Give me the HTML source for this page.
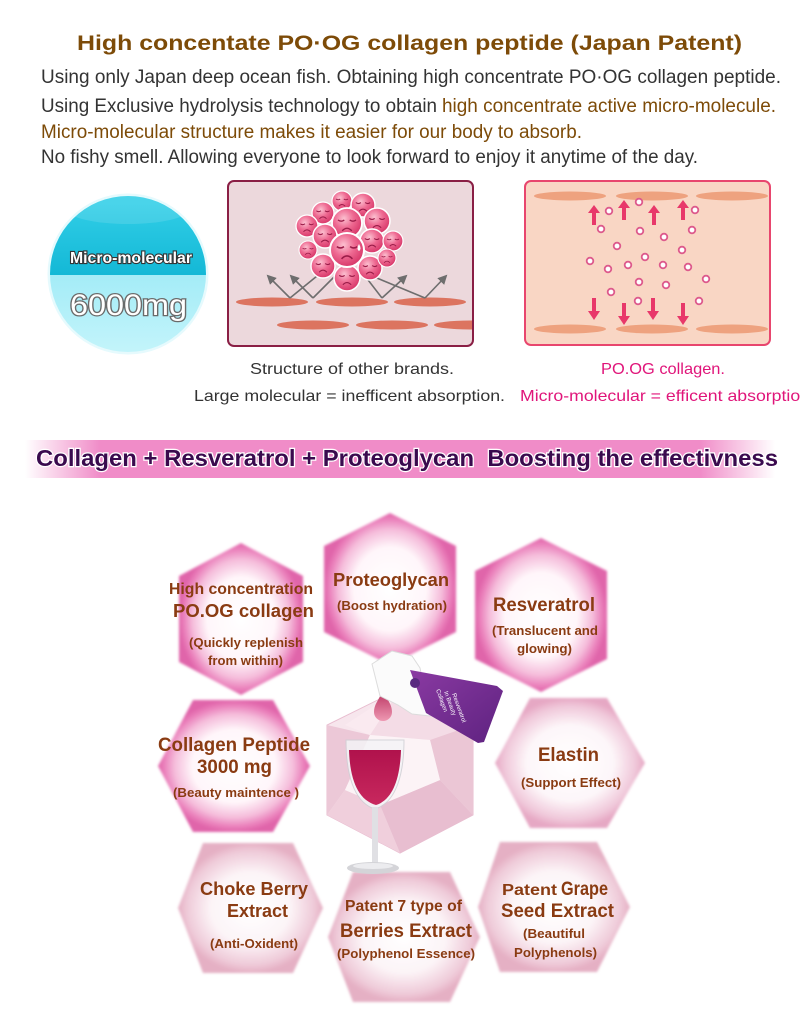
<!DOCTYPE html>
<html><head><meta charset="utf-8"><style>
html,body{margin:0;padding:0;background:#fff;}
svg{display:block;}
text{font-family:"Liberation Sans",Arial,sans-serif;}
</style></head><body>
<svg width="800" height="1015" viewBox="0 0 800 1015" xmlns="http://www.w3.org/2000/svg">
<defs>
<radialGradient id="hs"><stop offset="0" stop-color="#fff"/><stop offset="0.55" stop-color="#fff6fa"/><stop offset="0.78" stop-color="#f5bddb"/><stop offset="0.92" stop-color="#ea80bb"/><stop offset="1" stop-color="#e065aa"/></radialGradient>
<radialGradient id="he"><stop offset="0" stop-color="#fff"/><stop offset="0.58" stop-color="#fdf6f9"/><stop offset="0.87" stop-color="#f0c8da"/><stop offset="1" stop-color="#e6a8c4"/></radialGradient>
<radialGradient id="hb"><stop offset="0" stop-color="#fff"/><stop offset="0.55" stop-color="#fcf4f7"/><stop offset="0.87" stop-color="#efcbd9"/><stop offset="1" stop-color="#e5b0c4"/></radialGradient>
<radialGradient id="bub" cx="0.4" cy="0.35" r="0.65"><stop offset="0" stop-color="#fcc0d0"/><stop offset="0.5" stop-color="#ee6a92"/><stop offset="1" stop-color="#d8386a"/></radialGradient>
<linearGradient id="ban" x1="0" x2="1" y1="0" y2="0"><stop offset="0" stop-color="#f08cc8" stop-opacity="0"/><stop offset="0.1" stop-color="#f08cc8"/><stop offset="0.9" stop-color="#f08cc8"/><stop offset="1" stop-color="#f08cc8" stop-opacity="0"/></linearGradient>
<linearGradient id="cy1" x1="0" x2="0" y1="0" y2="1"><stop offset="0" stop-color="#36d2ea"/><stop offset="1" stop-color="#14b8d6"/></linearGradient>
<linearGradient id="cy2" x1="0" x2="0" y1="0" y2="1"><stop offset="0" stop-color="#a4ecf7"/><stop offset="1" stop-color="#c6f5fb"/></linearGradient>
<linearGradient id="wine" x1="0" x2="0" y1="0" y2="1"><stop offset="0" stop-color="#b0124c"/><stop offset="1" stop-color="#c8285e"/></linearGradient>
<linearGradient id="purp" x1="0" x2="1" y1="0" y2="1"><stop offset="0" stop-color="#8a3aa2"/><stop offset="1" stop-color="#5e2280"/></linearGradient>
<linearGradient id="drop" x1="0" x2="0" y1="0" y2="1"><stop offset="0" stop-color="#b8305e"/><stop offset="1" stop-color="#ee98b2"/></linearGradient>
<filter id="soft" x="-5%" y="-5%" width="110%" height="110%"><feGaussianBlur stdDeviation="1.2"/></filter>
<clipPath id="cc"><circle cx="128" cy="274" r="78"/></clipPath>
<clipPath id="b1"><rect x="229" y="182" width="243" height="163" rx="5"/></clipPath>
<marker id="ah" viewBox="0 0 10 10" refX="8" refY="5" markerWidth="6" markerHeight="6" orient="auto"><path d="M0,0 L10,5 L0,10 z" fill="#6e6e6e"/></marker>
<g id="face">
<circle r="10" fill="url(#bub)" stroke="#fff" stroke-width="1.2"/>
<path d="M-6,-2 q2.2,1.6 4.2,0 M1.8,-2 q2.2,1.6 4.2,0 M-3.2,5.2 q3.2,-3.4 6.4,0" fill="none" stroke="#9a1c48" stroke-width="0.9"/>
</g>
</defs>

<!-- Title & intro text -->
<text x="77" y="50" font-size="21" font-weight="bold" fill="#7d4b08" textLength="665" lengthAdjust="spacingAndGlyphs">High concentate PO·OG collagen peptide (Japan Patent)</text>
<text x="41" y="83" font-size="19" fill="#333" textLength="740" lengthAdjust="spacingAndGlyphs">Using only Japan deep ocean fish. Obtaining high concentrate PO·OG collagen peptide.</text>
<text x="41" y="112" font-size="19" fill="#333" textLength="396" lengthAdjust="spacingAndGlyphs">Using Exclusive hydrolysis technology to obtain</text>
<text x="442" y="112" font-size="19" fill="#7d4b08" textLength="334" lengthAdjust="spacingAndGlyphs">high concentrate active micro-molecule.</text>
<text x="41" y="138" font-size="19" fill="#7d4b08" textLength="541" lengthAdjust="spacingAndGlyphs">Micro-molecular structure makes it easier for our body to absorb.</text>
<text x="41" y="163" font-size="19" fill="#333" textLength="657" lengthAdjust="spacingAndGlyphs">No fishy smell. Allowing everyone to look forward to enjoy it anytime of the day.</text>

<!-- Cyan circle -->
<circle cx="128" cy="274" r="80.5" fill="#e6fafd"/>
<g clip-path="url(#cc)">
<rect x="40" y="190" width="180" height="85" fill="url(#cy1)"/>
<rect x="40" y="275" width="180" height="85" fill="url(#cy2)"/>
<ellipse cx="128" cy="210" rx="60" ry="14" fill="#fff" opacity="0.12"/>
</g>
<text x="70" y="263" font-size="16" font-weight="bold" fill="#fff" stroke="#333" stroke-width="2.2" paint-order="stroke" textLength="122" lengthAdjust="spacingAndGlyphs">Micro-molecular</text>
<text x="70" y="315" font-size="30" fill="#fff" stroke="#6a6a6a" stroke-width="2.6" paint-order="stroke" textLength="117" lengthAdjust="spacingAndGlyphs">6000mg</text>

<!-- Other brands box -->
<rect x="228" y="181" width="245" height="165" rx="6" fill="#ecd8dc" stroke="#8a1f45" stroke-width="2"/>
<g clip-path="url(#b1)">
<ellipse cx="272" cy="302" rx="36" ry="4.5" fill="#dc7460"/>
<ellipse cx="352" cy="302" rx="36" ry="4.5" fill="#dc7460"/>
<ellipse cx="430" cy="302" rx="36" ry="4.5" fill="#dc7460"/>
<ellipse cx="313" cy="325" rx="36" ry="4.5" fill="#dc7460"/>
<ellipse cx="392" cy="325" rx="36" ry="4.5" fill="#dc7460"/>
<ellipse cx="470" cy="325" rx="36" ry="4.5" fill="#dc7460"/>
</g>
<g stroke="#6e6e6e" stroke-width="1.6" fill="none">
<path d="M290,298 L268,276" marker-end="url(#ah)"/><path d="M290,298 L317,276"/>
<path d="M313,298 L291,276" marker-end="url(#ah)"/><path d="M313,298 L335,276"/>
<path d="M382,298 L365,276"/><path d="M382,298 L406,276" marker-end="url(#ah)"/>
<path d="M425,298 L372,276"/><path d="M425,298 L446,276" marker-end="url(#ah)"/>
</g>
<use href="#face" transform="translate(342,201) scale(1.0)"/>
<use href="#face" transform="translate(363,205) scale(1.2)"/>
<use href="#face" transform="translate(323,213) scale(1.1)"/>
<use href="#face" transform="translate(377,221) scale(1.3)"/>
<use href="#face" transform="translate(307,226) scale(1.1)"/>
<use href="#face" transform="translate(347,223) scale(1.5)"/>
<use href="#face" transform="translate(325,236) scale(1.2)"/>
<use href="#face" transform="translate(372,241) scale(1.2)"/>
<use href="#face" transform="translate(393,241) scale(1.0)"/>
<use href="#face" transform="translate(308,250) scale(0.9)"/>
<use href="#face" transform="translate(323,266) scale(1.2)"/>
<use href="#face" transform="translate(370,268) scale(1.2)"/>
<use href="#face" transform="translate(387,258) scale(0.9)"/>
<use href="#face" transform="translate(347,278) scale(1.3)"/>
<use href="#face" transform="translate(347,250) scale(1.7)"/>
<path d="M359,244 q3,5 0,7 q-3,-2 0,-7z" fill="#fff"/>

<!-- PO.OG box -->
<rect x="525" y="181" width="245" height="164" rx="6" fill="#f9d6c4" stroke="#e8466e" stroke-width="2"/>
<g fill="#eea27f">
<ellipse cx="570" cy="196" rx="36" ry="4.5"/><ellipse cx="652" cy="196" rx="36" ry="4.5"/><ellipse cx="732" cy="196" rx="36" ry="4.5"/>
<ellipse cx="570" cy="329" rx="36" ry="4.5"/><ellipse cx="652" cy="329" rx="36" ry="4.5"/><ellipse cx="732" cy="329" rx="36" ry="4.5"/>
</g>
<g fill="#e8386a">
<path d="M592,225 h4 v-12 h4 l-6,-8 l-6,8 h4z"/>
<path d="M622,220 h4 v-12 h4 l-6,-8 l-6,8 h4z"/>
<path d="M652,225 h4 v-12 h4 l-6,-8 l-6,8 h4z"/>
<path d="M681,220 h4 v-12 h4 l-6,-8 l-6,8 h4z"/>
<path d="M592,298 h4 v13 h4 l-6,9 l-6,-9 h4z"/>
<path d="M622,303 h4 v13 h4 l-6,9 l-6,-9 h4z"/>
<path d="M651,298 h4 v13 h4 l-6,9 l-6,-9 h4z"/>
<path d="M681,303 h4 v13 h4 l-6,9 l-6,-9 h4z"/>
</g>
<g fill="#fff" stroke="#dd5a8c" stroke-width="1.8">
<circle cx="609" cy="211" r="3.3"/><circle cx="639" cy="202" r="3.3"/><circle cx="695" cy="210" r="3.3"/>
<circle cx="601" cy="229" r="3.3"/><circle cx="640" cy="231" r="3.3"/><circle cx="664" cy="237" r="3.3"/>
<circle cx="692" cy="230" r="3.3"/><circle cx="617" cy="246" r="3.3"/><circle cx="682" cy="250" r="3.3"/>
<circle cx="590" cy="261" r="3.3"/><circle cx="608" cy="269" r="3.3"/><circle cx="628" cy="265" r="3.3"/>
<circle cx="645" cy="257" r="3.3"/><circle cx="663" cy="265" r="3.3"/><circle cx="688" cy="267" r="3.3"/>
<circle cx="706" cy="279" r="3.3"/><circle cx="639" cy="282" r="3.3"/><circle cx="666" cy="285" r="3.3"/>
<circle cx="611" cy="292" r="3.3"/><circle cx="638" cy="301" r="3.3"/><circle cx="699" cy="301" r="3.3"/>
</g>

<!-- captions -->
<text x="250" y="374" font-size="16" fill="#333" textLength="204" lengthAdjust="spacingAndGlyphs">Structure of other brands.</text>
<text x="194" y="401" font-size="16" fill="#333" textLength="311" lengthAdjust="spacingAndGlyphs">Large molecular = inefficent absorption.</text>
<text x="601" y="374" font-size="16" fill="#e0157a" textLength="124" lengthAdjust="spacingAndGlyphs">PO.OG collagen.</text>
<text x="520" y="401" font-size="16" fill="#e0157a" textLength="290" lengthAdjust="spacingAndGlyphs">Micro-molecular = efficent absorption</text>

<!-- banner -->
<rect x="25" y="440" width="750" height="38" fill="url(#ban)"/>
<text x="36" y="466" font-size="23" font-weight="bold" fill="#3a0a4e" stroke="#fff" stroke-width="2.4" paint-order="stroke" style="white-space:pre" textLength="742" lengthAdjust="spacingAndGlyphs">Collagen + Resveratrol + Proteoglycan  Boosting the effectivness</text>

<!-- hexagons -->
<g filter="url(#soft)">
<polygon points="241,543 303,576 303,662 241,695 179,662 179,576" fill="url(#hs)"/>
<polygon points="390,513 456,546 456,632 390,665 324,632 324,546" fill="url(#hs)"/>
<polygon points="541,538 607,571 607,659 541,692 475,659 475,571" fill="url(#hs)"/>
<polygon points="193,700 273,700 310,766 273,832 193,832 158,766" fill="url(#hs)"/>
<polygon points="530,698 607,698 645,763 607,828 530,828 495,763" fill="url(#he)"/>
<polygon points="203,843 293,843 323,908 293,973 203,973 178,908" fill="url(#hb)"/>
<polygon points="353,872 450,872 480,937 450,1002 353,1002 328,937" fill="url(#hb)"/>
<polygon points="500,842 597,842 630,907 597,972 500,972 478,907" fill="url(#hb)"/>
</g>

<!-- crystal -->
<polygon points="400,689 473,725 473,815 400,853 327,815 327,725" fill="#f7e6ed" stroke="#e8bccf" stroke-width="1"/>
<polygon points="327,725 370,735 345,790 327,815" fill="#ecc8d7"/>
<polygon points="400,689 473,725 430,740 370,735" fill="#f4dce6"/>
<polygon points="473,725 473,815 440,780 430,740" fill="#ebc6d5"/>
<polygon points="327,815 400,853 380,805 345,790" fill="#f0cfdc"/>
<polygon points="400,853 473,815 440,780 380,805" fill="#e8bed0"/>
<polygon points="370,735 430,740 440,780 380,805 345,790" fill="#fcf3f6"/>
<polygon points="400,689 370,735 345,725" fill="#faeaf0"/>

<!-- wine glass -->
<path d="M346,740 L404,740 C404,775 396,800 378,808 L372,808 C354,800 346,775 346,740z" fill="#f4f4f6" opacity="0.85" stroke="#cfcfd4" stroke-width="1"/>
<path d="M349,750 L401,750 C400,780 392,800 376,805 C358,800 350,780 349,750z" fill="url(#wine)"/>
<rect x="372" y="808" width="6" height="56" fill="#e0e0e4"/>
<ellipse cx="373" cy="868" rx="26" ry="6" fill="#d4d4d8"/>
<ellipse cx="373" cy="866" rx="20" ry="3" fill="#ececef"/>

<!-- drop -->
<path d="M383,690 C387,700 392,704 392,712 A9,9 0 0 1 374,712 C374,704 379,700 383,690z" fill="url(#drop)"/>

<!-- pouch -->
<polygon points="372,664 392,651 412,656 420,668 430,716 412,714 398,705 380,696" fill="#fbfbfb" stroke="#dcdcdc" stroke-width="1"/>
<polygon points="410,670 497,686 503,691 484,742 478,743 426,713" fill="url(#purp)"/>
<circle cx="415" cy="683" r="5" fill="#5a2a80"/>
<text transform="translate(436,690) rotate(70)" font-size="6" fill="#fff">Collagen</text>
<text transform="translate(444,692) rotate(70)" font-size="6" fill="#fff">In Beauty</text>
<text transform="translate(452,694) rotate(70)" font-size="6" fill="#fff">Resveratrol</text>

<!-- hex texts -->
<g fill="#8a3b12" font-weight="bold">
<text x="169" y="594" font-size="16" textLength="144" lengthAdjust="spacingAndGlyphs">High concentration</text>
<text x="173" y="617" font-size="18.5" textLength="141" lengthAdjust="spacingAndGlyphs">PO.OG collagen</text>
<text x="189" y="647" font-size="13" textLength="114" lengthAdjust="spacingAndGlyphs">(Quickly replenish</text>
<text x="208" y="665" font-size="13" textLength="75" lengthAdjust="spacingAndGlyphs">from within)</text>

<text x="333" y="586" font-size="18" textLength="116" lengthAdjust="spacingAndGlyphs">Proteoglycan</text>
<text x="337" y="610" font-size="13" textLength="110" lengthAdjust="spacingAndGlyphs">(Boost hydration)</text>

<text x="493" y="611" font-size="19" textLength="102" lengthAdjust="spacingAndGlyphs">Resveratrol</text>
<text x="492" y="635" font-size="13" textLength="106" lengthAdjust="spacingAndGlyphs">(Translucent and</text>
<text x="517" y="653" font-size="13" textLength="55" lengthAdjust="spacingAndGlyphs">glowing)</text>

<text x="158" y="751" font-size="19" textLength="152" lengthAdjust="spacingAndGlyphs">Collagen Peptide</text>
<text x="197" y="773" font-size="19" textLength="75" lengthAdjust="spacingAndGlyphs">3000 mg</text>
<text x="173" y="797" font-size="13" textLength="126" lengthAdjust="spacingAndGlyphs">(Beauty maintence )</text>

<text x="538" y="761" font-size="19" textLength="61" lengthAdjust="spacingAndGlyphs">Elastin</text>
<text x="521" y="787" font-size="13" textLength="100" lengthAdjust="spacingAndGlyphs">(Support Effect)</text>

<text x="200" y="895" font-size="18" textLength="108" lengthAdjust="spacingAndGlyphs">Choke Berry</text>
<text x="227" y="917" font-size="18" textLength="61" lengthAdjust="spacingAndGlyphs">Extract</text>
<text x="210" y="948" font-size="13" textLength="88" lengthAdjust="spacingAndGlyphs">(Anti-Oxident)</text>

<text x="345" y="911" font-size="16" textLength="117" lengthAdjust="spacingAndGlyphs">Patent 7 type of</text>
<text x="340" y="937" font-size="19" textLength="132" lengthAdjust="spacingAndGlyphs">Berries Extract</text>
<text x="337" y="958" font-size="13" textLength="138" lengthAdjust="spacingAndGlyphs">(Polyphenol Essence)</text>

<text x="502" y="895" font-size="16" textLength="55" lengthAdjust="spacingAndGlyphs">Patent</text>
<text x="561" y="895" font-size="19" textLength="47" lengthAdjust="spacingAndGlyphs">Grape</text>
<text x="501" y="917" font-size="19" textLength="113" lengthAdjust="spacingAndGlyphs">Seed Extract</text>
<text x="523" y="938" font-size="13" textLength="62" lengthAdjust="spacingAndGlyphs">(Beautiful</text>
<text x="514" y="957" font-size="13" textLength="83" lengthAdjust="spacingAndGlyphs">Polyphenols)</text>
</g>
</svg>
</body></html>
